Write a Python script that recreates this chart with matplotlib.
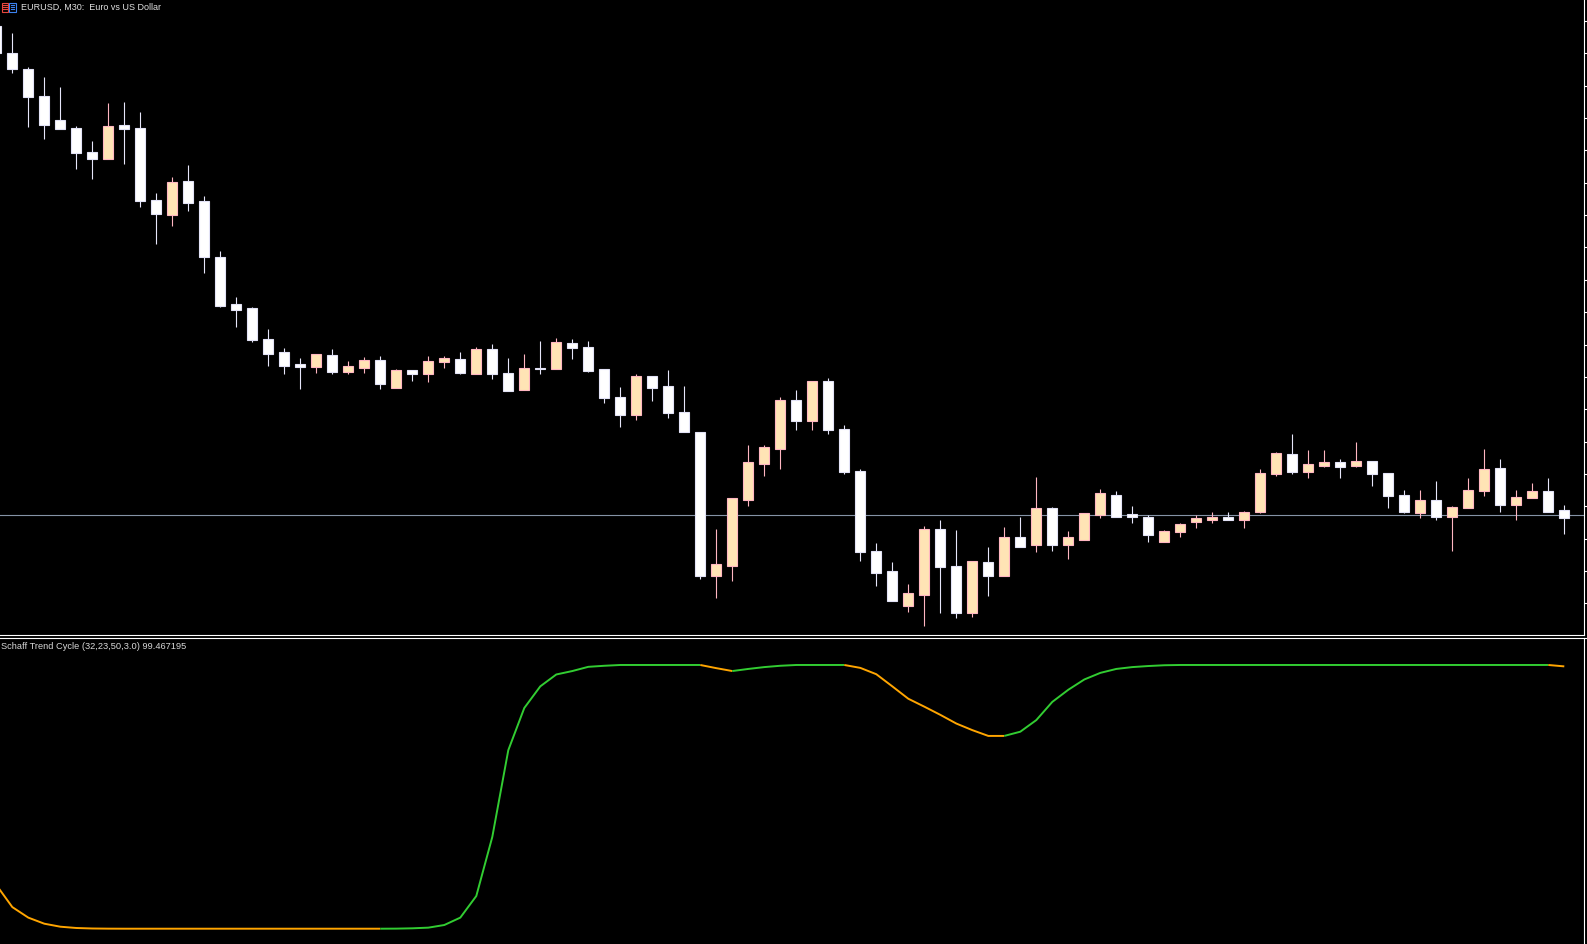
import numpy as np
import matplotlib
matplotlib.use("Agg")
import matplotlib.pyplot as plt
from matplotlib.patches import Rectangle
from matplotlib.lines import Line2D

# EURUSD M30 candles, oldest first (first one is cut off at the left edge)
opens = [1.08948, 1.08895, 1.08863, 1.08809, 1.08759, 1.08745, 1.08697, 1.08683, 1.08749, 1.08745,
         1.08601, 1.08571, 1.08637, 1.08597, 1.08487, 1.08392, 1.08384, 1.08322, 1.08296, 1.08272,
         1.08267, 1.08290, 1.08257, 1.08265, 1.08280, 1.08225, 1.08259, 1.08251, 1.08275, 1.08283,
         1.08253, 1.08303, 1.08253, 1.08221, 1.08265, 1.08261, 1.08315, 1.08305, 1.08261, 1.08205,
         1.08171, 1.08247, 1.08227, 1.08175, 1.08137, 1.07849, 1.07869, 1.08001, 1.08073, 1.08103,
         1.08201, 1.08159, 1.08239, 1.08143, 1.08059, 1.07899, 1.07857, 1.07787, 1.07811, 1.07941,
         1.07867, 1.07775, 1.07875, 1.07849, 1.07927, 1.07909, 1.07983, 1.07909, 1.07921, 1.07971,
         1.08011, 1.07971, 1.07967, 1.07915, 1.07935, 1.07957, 1.07961, 1.07965, 1.07961, 1.07977,
         1.08051, 1.08093, 1.08057, 1.08069, 1.08075, 1.08069, 1.08077, 1.08053, 1.08009, 1.07975,
         1.07999, 1.07967, 1.07983, 1.08017, 1.08063, 1.07991, 1.08003, 1.08017, 1.07980]
highs = [1.08952, 1.08935, 1.08867, 1.08846, 1.08826, 1.08748, 1.08718, 1.08794, 1.08796, 1.08776,
         1.08614, 1.08646, 1.08670, 1.08608, 1.08498, 1.08406, 1.08386, 1.08342, 1.08304, 1.08284,
         1.08292, 1.08302, 1.08278, 1.08286, 1.08288, 1.08261, 1.08259, 1.08288, 1.08288, 1.08295,
         1.08306, 1.08312, 1.08284, 1.08292, 1.08318, 1.08324, 1.08322, 1.08318, 1.08261, 1.08226,
         1.08252, 1.08247, 1.08260, 1.08228, 1.08137, 1.07942, 1.08003, 1.08110, 1.08110, 1.08206,
         1.08220, 1.08239, 1.08244, 1.08150, 1.08062, 1.07914, 1.07876, 1.07832, 1.07948, 1.07961,
         1.07941, 1.07878, 1.07906, 1.07946, 1.07966, 1.08046, 1.07986, 1.07938, 1.07973, 1.08022,
         1.08017, 1.07988, 1.07969, 1.07941, 1.07954, 1.07971, 1.07976, 1.07976, 1.07978, 1.08063,
         1.08097, 1.08133, 1.08101, 1.08101, 1.08083, 1.08117, 1.08079, 1.08055, 1.08020, 1.08020,
         1.08039, 1.07989, 1.08045, 1.08103, 1.08081, 1.08021, 1.08035, 1.08045, 1.07991]
lows = [1.08892, 1.08855, 1.08747, 1.08723, 1.08743, 1.08663, 1.08643, 1.08683, 1.08673, 1.08587,
        1.08513, 1.08549, 1.08579, 1.08455, 1.08387, 1.08347, 1.08317, 1.08269, 1.08253, 1.08223,
        1.08255, 1.08251, 1.08251, 1.08255, 1.08223, 1.08225, 1.08239, 1.08237, 1.08265, 1.08253,
        1.08251, 1.08243, 1.08217, 1.08221, 1.08251, 1.08261, 1.08283, 1.08257, 1.08195, 1.08147,
        1.08161, 1.08199, 1.08165, 1.08137, 1.07843, 1.07803, 1.07837, 1.07987, 1.08047, 1.08063,
        1.08141, 1.08141, 1.08133, 1.08053, 1.07879, 1.07827, 1.07797, 1.07776, 1.07748, 1.07773,
        1.07765, 1.07767, 1.07807, 1.07849, 1.07907, 1.07897, 1.07899, 1.07881, 1.07921, 1.07963,
        1.07967, 1.07953, 1.07917, 1.07915, 1.07927, 1.07945, 1.07955, 1.07961, 1.07945, 1.07975,
        1.08049, 1.08051, 1.08045, 1.08065, 1.08045, 1.08067, 1.08027, 1.07983, 1.07973, 1.07963,
        1.07959, 1.07898, 1.07983, 1.08009, 1.07977, 1.07959, 1.08003, 1.07977, 1.07933]
closes = [1.08894, 1.08863, 1.08807, 1.08751, 1.08743, 1.08695, 1.08683, 1.08749, 1.08743, 1.08599,
          1.08573, 1.08637, 1.08595, 1.08485, 1.08389, 1.08381, 1.08321, 1.08293, 1.08269, 1.08267,
          1.08292, 1.08257, 1.08268, 1.08280, 1.08231, 1.08260, 1.08251, 1.08277, 1.08283, 1.08255,
          1.08303, 1.08251, 1.08219, 1.08265, 1.08261, 1.08315, 1.08305, 1.08259, 1.08205, 1.08171,
          1.08247, 1.08225, 1.08173, 1.08137, 1.07849, 1.07871, 1.08003, 1.08075, 1.08105, 1.08201,
          1.08159, 1.08239, 1.08141, 1.08057, 1.07895, 1.07855, 1.07797, 1.07813, 1.07941, 1.07865,
          1.07775, 1.07878, 1.07847, 1.07927, 1.07907, 1.07983, 1.07909, 1.07925, 1.07973, 1.08015,
          1.07967, 1.07967, 1.07929, 1.07937, 1.07951, 1.07963, 1.07965, 1.07961, 1.07975, 1.08053,
          1.08093, 1.08057, 1.08071, 1.08075, 1.08067, 1.08079, 1.08051, 1.08007, 1.07977, 1.07999,
          1.07967, 1.07985, 1.08019, 1.08061, 1.07991, 1.08005, 1.08017, 1.07977, 1.07963]
bid = 1.07971

# Schaff Trend Cycle (32,23,50,3.0), one value per candle
stc = [16.6, 8.2, 4.2, 1.9, 0.76, 0.27, 0.08, 0.02, 0.0, 0.0,
       0.0, 0.0, 0.0, 0.0, 0.0, 0.0, 0.0, 0.0, 0.0, 0.0,
       0.0, 0.0, 0.0, 0.0, 0.0, 0.03, 0.15, 0.4, 1.4, 4.2,
       12.4, 34.8, 67.7, 83.7, 91.9, 96.4, 97.7, 99.3, 99.7, 100.0,
       100.0, 100.0, 100.0, 100.0, 100.0, 98.8, 97.7, 98.5, 99.2, 99.7,
       100.0, 100.0, 100.0, 100.0, 98.9, 96.5, 91.9, 87.2, 84.2, 81.1,
       77.8, 75.3, 73.1, 73.1, 74.7, 79.1, 86.0, 90.6, 94.5, 97.0,
       98.5, 99.2, 99.6, 99.9, 100.0, 100.0, 100.0, 100.0, 100.0, 100.0,
       100.0, 100.0, 100.0, 100.0, 100.0, 100.0, 100.0, 100.0, 100.0, 100.0,
       100.0, 100.0, 100.0, 100.0, 100.0, 100.0, 100.0, 100.0, 99.467195]

title = "EURUSD, M30:  Euro vs US Dollar"
stc_label = "Schaff Trend Cycle (32,23,50,3.0) 99.467195"

W, H = 1587, 944
fig = plt.figure(figsize=(W / 100, H / 100), dpi=100, facecolor="black")

# ---- price panel ----
ax = fig.add_axes([0, (H - 635) / H, 1584 / W, 635 / H], facecolor="black")
x = np.arange(len(opens))
o = np.array(opens)
c = np.array(closes)
up = c > o

ax.vlines(x[up], np.array(lows)[up], np.array(highs)[up], color="#ffb6c1", lw=0.8, zorder=2)
ax.vlines(x[~up], np.array(lows)[~up], np.array(highs)[~up], color="#e6e6fa", lw=0.8, zorder=2)
body_lo = np.minimum(o, c)
body_h = np.maximum(np.abs(c - o), 0.00002)
ax.bar(x[up], body_h[up], bottom=body_lo[up], width=0.62, color="#ffe4b5",
       edgecolor="#ffb6c1", linewidth=0.8, zorder=3)
ax.bar(x[~up], body_h[~up], bottom=body_lo[~up], width=0.62, color="#ffffff",
       edgecolor="#e2e2f6", linewidth=0.8, zorder=3)
ax.axhline(bid, color="#8593a6", lw=0.8, zorder=1)

ax.set_xlim(3.7 / 16, (1584 + 3.7) / 16)
ax.set_ylim(1.07730, 1.09000)
ax.set_yticks(np.arange(1.08958, 1.0774, -0.000647))
ax.yaxis.tick_right()
ax.tick_params(axis="y", colors="white", length=3, width=0.8, direction="out", labelright=False)
ax.set_xticks([])
for s in ["top", "left"]:
    ax.spines[s].set_visible(False)
for s in ["right", "bottom"]:
    ax.spines[s].set_color("white")
    ax.spines[s].set_linewidth(0.8)

# ---- STC panel ----
ax2 = fig.add_axes([0, 0, 1584 / W, 306.5 / H], facecolor="black")
v = np.array(stc)
seg_col = []
prev = "#ffa500"
for i in range(1, len(v)):
    if v[i] > v[i - 1]:
        prev = "#32cd32"
    elif v[i] < v[i - 1]:
        prev = "#ffa500"
    seg_col.append(prev)
start = 0
for i in range(1, len(seg_col) + 1):
    if i == len(seg_col) or seg_col[i] != seg_col[start]:
        ax2.plot(x[start:i + 1], v[start:i + 1], color=seg_col[start], lw=1.4,
                 solid_capstyle="butt", solid_joinstyle="round")
        start = i
ax2.set_xlim(3.7 / 16, (1584 + 3.7) / 16)
ax2.set_ylim(-5.8, 110.42)
ax2.set_yticks([110.42])
ax2.yaxis.tick_right()
ax2.tick_params(axis="y", colors="white", length=3, width=0.8, labelright=False)
ax2.set_xticks([])
for s in ["bottom", "left"]:
    ax2.spines[s].set_visible(False)
for s in ["right", "top"]:
    ax2.spines[s].set_color("white")
    ax2.spines[s].set_linewidth(0.8)

# ---- texts and symbol icon, placed in pixel coordinates ----
ov = fig.add_axes([0, 0, 1, 1], facecolor="none")
ov.set_xlim(0, W)
ov.set_ylim(H, 0)
ov.axis("off")
ov.add_patch(Rectangle((1.5, 2.5), 6, 9, fill=False, edgecolor="#e8463c", lw=0.8))
ov.add_patch(Rectangle((9, 2.5), 6.5, 9, fill=False, edgecolor="#3c82f0", lw=0.8))
for yy in [5, 7, 9]:
    ov.add_line(Line2D([3, 6.5], [yy, yy], color="#e8463c", lw=0.8))
    ov.add_line(Line2D([10.5, 14], [yy, yy], color="#3c82f0", lw=0.8))
ov.text(21, 7.5, title, color="#e0e0e0", fontsize=6.5, family="Liberation Sans",
        ha="left", va="center")
ov.text(1, 646.5, stc_label, color="#d8d8d8", fontsize=6.7, family="Liberation Sans",
        ha="left", va="center")

fig.savefig("out.png", dpi=100, facecolor="black")
